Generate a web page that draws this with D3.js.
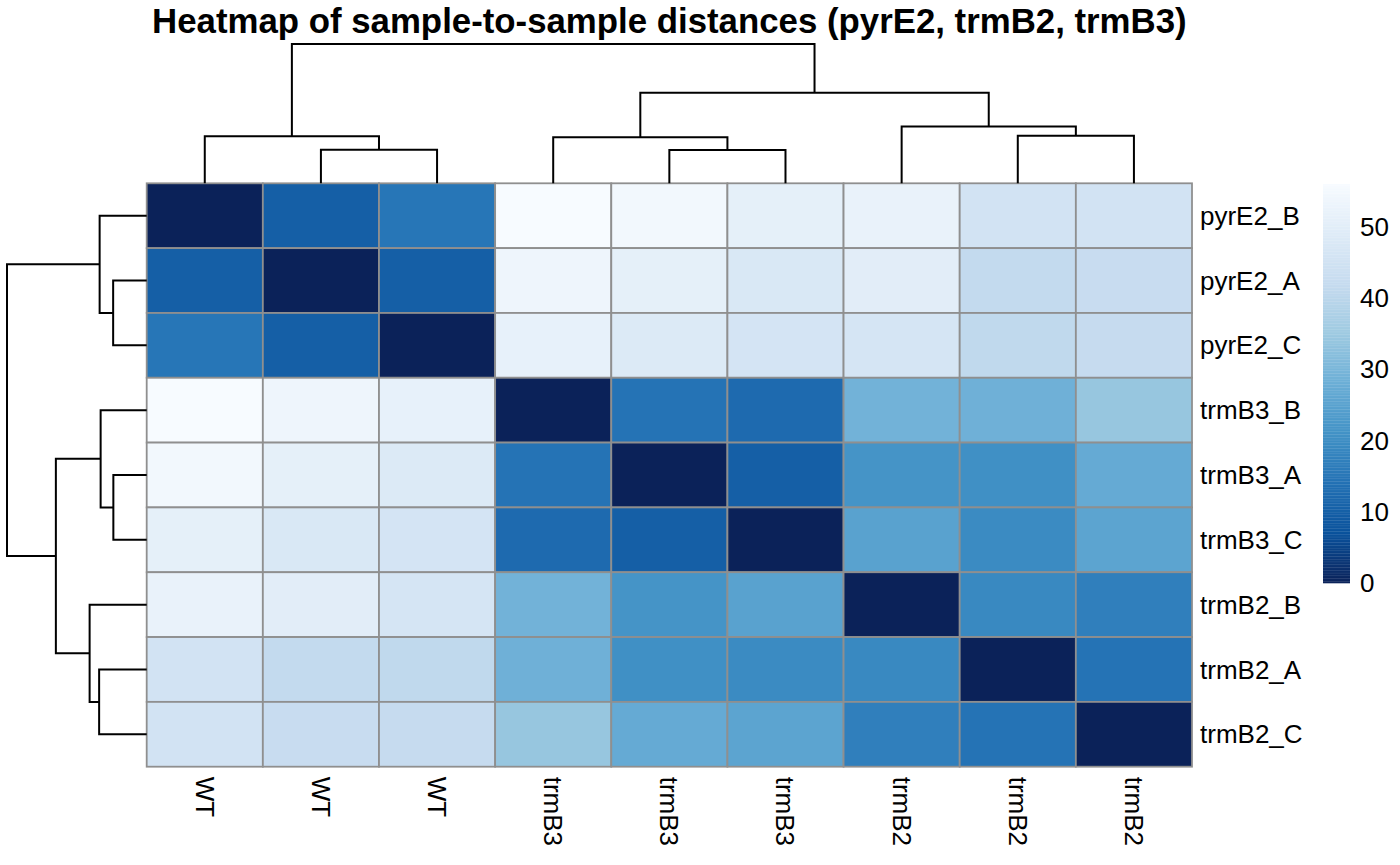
<!DOCTYPE html>
<html>
<head>
<meta charset="utf-8">
<script src="https://cdn.jsdelivr.net/npm/d3@7"></script>
<style>
  body { margin: 0; background: #fff; }
  text { font-family: "Liberation Sans", Arial, Helvetica, sans-serif; fill: #000; }
</style>
</head>
<body>
<div id="hm_box"></div>
<script>
"use strict";

// samples in clustered order (rows and columns are the same samples)
const samples = ["pyrE2_B", "pyrE2_A", "pyrE2_C", "trmB3_B", "trmB3_A", "trmB3_C", "trmB2_B", "trmB2_A", "trmB2_C"];
const conditions = ["WT", "WT", "WT", "trmB3", "trmB3", "trmB3", "trmB2", "trmB2", "trmB2"];

// sample-to-sample distances
const distances = [
    [0, 10, 15, 56, 54.5, 51, 52, 45.5, 45.5],
    [10, 0, 10, 53.5, 51, 47.5, 50, 41.5, 42.5],
    [15, 10, 0, 51.5, 48.5, 46, 46.5, 41, 42],
    [56, 53.5, 51.5, 0, 14.5, 12.5, 29, 28.5, 34],
    [54.5, 51, 48.5, 14.5, 0, 10, 21.5, 20.5, 27],
    [51, 47.5, 46, 12.5, 10, 0, 25, 19.5, 25.5],
    [52, 50, 46.5, 29, 21.5, 25, 0, 19, 17],
    [45.5, 41.5, 41, 28.5, 20.5, 19.5, 19, 0, 14.5],
    [45.5, 42.5, 42, 34, 27, 25.5, 17, 14.5, 0]
];

// hclust style merges: negative = leaf (1-based), positive = earlier merge
const merges = [[-2, -3], [-5, -6], [-1, 1], [-4, 2], [-8, -9], [-7, 5], [4, 6], [3, 7]];
const merge_heights = [33.5, 33.3, 47, 46, 47.5, 57, 90.7, 139.5];

const legend_ticks = [0, 10, 20, 30, 40, 50];
const legend_max = 56;
const blues_rev = ["#0b2259", "#0a529c", "#2371b4", "#4292c6", "#6baed6", "#9ecae1", "#c6dbef", "#deebf7", "#f7fbff"];

const title_text = "Heatmap of sample-to-sample distances (pyrE2, trmB2, trmB3)";

const W = 1400, H = 865;
const grid = {left: 146.7, right: 1192, top: 183.3, bottom: 766.7};

const svg = d3.select("#hm_box")
    .append("svg")
    .attr("width", W)
    .attr("height", H);

svg.append("rect").attr("width", W).attr("height", H).attr("fill", "#fff");

const x = d3.scaleBand().domain(d3.range(samples.length)).range([grid.left, grid.right]);
const y = d3.scaleBand().domain(d3.range(samples.length)).range([grid.top, grid.bottom]);

const color = d3.scaleLinear()
    .domain(blues_rev.map((c, i) => i * legend_max / (blues_rev.length - 1)))
    .range(blues_rev)
    .clamp(true);

// cells
const cells = [];
distances.forEach((row, i) => row.forEach((v, j) => cells.push({i: i, j: j, v: v})));

svg.append("g")
    .selectAll("rect")
    .data(cells)
    .join("rect")
    .attr("x", d => x(d.j))
    .attr("y", d => y(d.i))
    .attr("width", x.bandwidth())
    .attr("height", y.bandwidth())
    .attr("fill", d => color(d.v))
    .attr("stroke", "#8f8f8f")
    .attr("stroke-width", 1.8);

// dendrograms
const _tree_lines = function (leaf_pos) {
    let pos = [], hgt = [];
    const get = k => k < 0 ? [leaf_pos(-k - 1), 0] : [pos[k - 1], hgt[k - 1]];
    let segs = [];
    merges.forEach((m, idx) => {
        let a = get(m[0]), b = get(m[1]), h = merge_heights[idx];
        segs.push([[a[0], a[1]], [a[0], h], [b[0], h], [b[0], b[1]]]);
        pos.push((a[0] + b[0]) / 2);
        hgt.push(h);
    });
    return segs;
};

const max_h = d3.max(merge_heights);
const top_h = d3.scaleLinear().domain([0, max_h]).range([grid.top, 44]);
const left_h = d3.scaleLinear().domain([0, max_h]).range([grid.left, 7]);

const col_center = i => x(i) + x.bandwidth() / 2;
const row_center = i => y(i) + y.bandwidth() / 2;

const top_line = d3.line().x(p => p[0]).y(p => top_h(p[1]));
svg.append("g")
    .selectAll("path")
    .data(_tree_lines(col_center))
    .join("path")
    .attr("d", top_line)
    .attr("fill", "none")
    .attr("stroke", "#000")
    .attr("stroke-width", 2);

const left_line = d3.line().x(p => left_h(p[1])).y(p => p[0]);
svg.append("g")
    .selectAll("path")
    .data(_tree_lines(row_center))
    .join("path")
    .attr("d", left_line)
    .attr("fill", "none")
    .attr("stroke", "#000")
    .attr("stroke-width", 2);

// row labels
svg.append("g")
    .selectAll("text")
    .data(samples)
    .join("text")
    .attr("x", grid.right + 8)
    .attr("y", (d, i) => row_center(i))
    .attr("dy", "0.35em")
    .attr("font-size", 26)
    .text(d => d);

// column labels, rotated
svg.append("g")
    .selectAll("text")
    .data(conditions)
    .join("text")
    .attr("transform", (d, i) => "translate(" + col_center(i) + "," + (grid.bottom + 10) + ") rotate(90)")
    .attr("dy", "0.35em")
    .attr("font-size", 26)
    .text(d => d);

// legend
const leg = {left: 1323, right: 1350, top: 184, bottom: 583};
const leg_y = d3.scaleLinear().domain([0, legend_max]).range([leg.bottom, leg.top]);
const n_col = 255;
const step = legend_max / n_col;

svg.append("g")
    .selectAll("rect")
    .data(d3.range(n_col))
    .join("rect")
    .attr("x", leg.left)
    .attr("width", leg.right - leg.left)
    .attr("y", k => leg_y((k + 1) * step))
    .attr("height", k => leg_y(k * step) - leg_y((k + 1) * step) + 0.3)
    .attr("fill", k => color((k + 0.5) * step));

svg.append("g")
    .selectAll("text")
    .data(legend_ticks)
    .join("text")
    .attr("x", leg.right + 10)
    .attr("y", d => leg_y(d))
    .attr("dy", "0.35em")
    .attr("font-size", 26)
    .text(d => d);

// title
svg.append("text")
    .attr("x", (grid.left + grid.right) / 2)
    .attr("y", 33)
    .attr("text-anchor", "middle")
    .attr("font-size", 34.8)
    .attr("font-weight", "bold")
    .text(title_text);
</script>
</body>
</html>
